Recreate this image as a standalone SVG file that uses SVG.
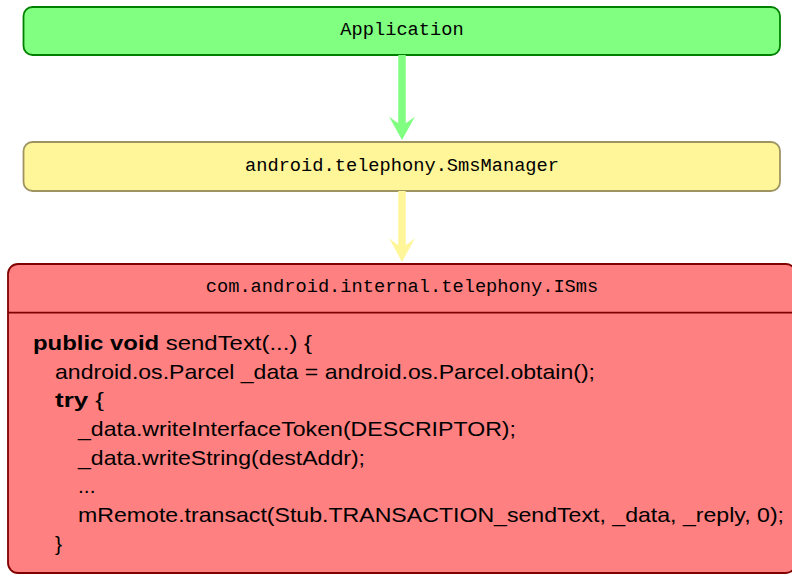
<svg xmlns="http://www.w3.org/2000/svg" width="792" height="575" viewBox="0 0 792 575">
  <style>
    .mono { font-family: "Liberation Mono", "DejaVu Sans Mono", monospace; font-size: 18.7px; fill: #000; text-anchor: middle; }
    .code { font-family: "Liberation Sans", "Noto Sans", sans-serif; font-size: 21px; fill: #000; }
    .kw { font-weight: bold; }
    .box { stroke-width: 1.8; }
  </style>

  <!-- Application layer -->
  <g id="application">
    <rect class="box" x="23.5" y="7" width="756.5" height="48" rx="9" fill="#80FF80" stroke="#008000"/>
    <text class="mono" x="402" y="35">Application</text>
  </g>

  <!-- Framework manager -->
  <g id="sms-manager">
    <rect class="box" x="23.5" y="142" width="756.5" height="49" rx="9" fill="#FFF599" stroke="#9E9462"/>
    <text class="mono" x="402" y="171">android.telephony.SmsManager</text>
  </g>

  <!-- AIDL proxy with method body -->
  <g id="isms">
    <rect class="box" x="8" y="264" width="788" height="309" rx="10" fill="#FF8080" stroke="#800000"/>
    <line x1="8" y1="312.7" x2="796" y2="312.7" stroke="#800000" stroke-width="1.8"/>
    <text class="mono" x="402" y="292">com.android.internal.telephony.ISms</text>
    <text class="code" x="33" y="350" textLength="279" lengthAdjust="spacingAndGlyphs"><tspan class="kw">public void</tspan> sendText(...) {</text>
    <text class="code" x="55" y="379" textLength="540" lengthAdjust="spacingAndGlyphs">android.os.Parcel _data = android.os.Parcel.obtain();</text>
    <text class="code" x="55" y="407" textLength="49" lengthAdjust="spacingAndGlyphs"><tspan class="kw">try</tspan> {</text>
    <text class="code" x="78" y="436" textLength="438" lengthAdjust="spacingAndGlyphs">_data.writeInterfaceToken(DESCRIPTOR);</text>
    <text class="code" x="78" y="465" textLength="287" lengthAdjust="spacingAndGlyphs">_data.writeString(destAddr);</text>
    <text class="code" x="78" y="493">...</text>
    <text class="code" x="78" y="522" textLength="706" lengthAdjust="spacingAndGlyphs">mRemote.transact(Stub.TRANSACTION_sendText, _data, _reply, 0);</text>
    <text class="code" x="55" y="551">}</text>
  </g>

  <!-- Call arrows -->
  <g id="connectors">
    <line x1="402" y1="55" x2="402" y2="128" stroke="#80FF80" stroke-width="7.5"/>
    <path d="M402 140 L389 116.5 Q397 123 402 125 Q407 123 415 116.5 Z" fill="#80FF80"/>
    <line x1="402" y1="191" x2="402" y2="250" stroke="#FFF599" stroke-width="7.5"/>
    <path d="M402 262 L389 238 Q397 245 402 247 Q407 245 415 238 Z" fill="#FFF599"/>
  </g>
</svg>
